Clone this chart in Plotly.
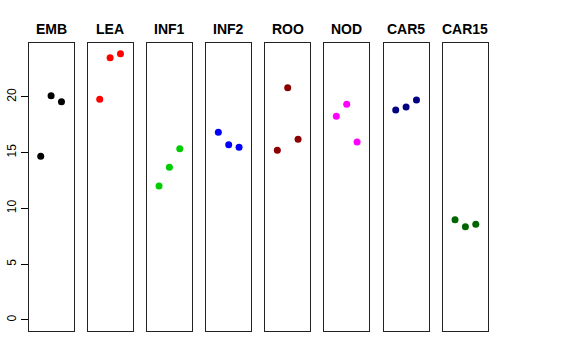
import plotly.graph_objects as go

categories = ["EMB", "LEA", "INF1", "INF2", "ROO", "NOD", "CAR5", "CAR15"]
positions = [1, 2, 3]
values = {
    "EMB": [14.67, 20.10, 19.56],
    "LEA": [19.78, 23.50, 23.86],
    "INF1": [12.01, 13.68, 15.35],
    "INF2": [16.82, 15.71, 15.47],
    "ROO": [15.20, 20.82, 16.19],
    "NOD": [18.25, 19.33, 15.95],
    "CAR5": [18.82, 19.09, 19.71],
    "CAR15": [8.99, 8.36, 8.57],
}
colors = ["#000000", "#FF0000", "#00CD00", "#0000FF", "#8B0000", "#FF00FF", "#000080", "#006400"]
y_ticks = [0, 5, 10, 15, 20]

W, H = 576, 360
panel_left = [28.7, 87.7, 147.0, 206.3, 265.3, 324.3, 383.7, 443.0]
panel_w = 44.8
top_px, bot_px = 43, 331

fig = go.Figure()
layout = dict(
    width=W, height=H,
    margin=dict(l=0, r=0, t=0, b=0, pad=0, autoexpand=False),
    paper_bgcolor="white", plot_bgcolor="white",
    showlegend=False,
    font=dict(family="Liberation Sans, Arial, sans-serif", color="black"),
)
annotations = []
for i, cat in enumerate(categories):
    n = "" if i == 0 else str(i + 1)
    fig.add_trace(go.Scatter(
        x=positions, y=values[cat], mode="markers",
        marker=dict(color=colors[i], size=7),
        xaxis="x" + n, yaxis="y" + n,
    ))
    x0 = panel_left[i] / W
    x1 = (panel_left[i] + panel_w) / W
    layout["xaxis" + n] = dict(
        domain=[x0, x1], range=[-0.16, 4.16], showgrid=False, zeroline=False,
        showticklabels=False, ticks="", showline=True, mirror=True, automargin=False,
        linecolor="#222", linewidth=1, anchor="y" + n, fixedrange=True,
    )
    yax = dict(
        domain=[1 - bot_px / H, 1 - top_px / H], range=[-0.99, 24.82],
        showgrid=False, zeroline=False, showline=True, mirror=True, automargin=False,
        linecolor="#222", linewidth=1, anchor="x" + n, fixedrange=True,
    )
    if i == 0:
        yax.update(ticks="outside", ticklen=7, tickcolor="black", tickvals=y_ticks,
                   ticktext=[str(v) for v in y_ticks], tickangle=-90,
                   tickfont=dict(size=12, family="Liberation Sans, Arial, sans-serif"))
    else:
        yax.update(showticklabels=False, ticks="")
    layout["yaxis" + n] = yax
    annotations.append(dict(
        text="<b>" + cat + "</b>", x=(x0 + x1) / 2, y=1 - 29 / H,
        xref="paper", yref="paper", showarrow=False, xanchor="center", yanchor="middle",
        font=dict(size=14, family="Liberation Sans, Arial, sans-serif", color="black"),
    ))
layout["annotations"] = annotations
fig.update_layout(**layout)
fig.write_html(
    "out.html",
    config={"displayModeBar": False},
    post_script="document.body.style.margin='0';document.body.style.overflow='hidden';",
)
